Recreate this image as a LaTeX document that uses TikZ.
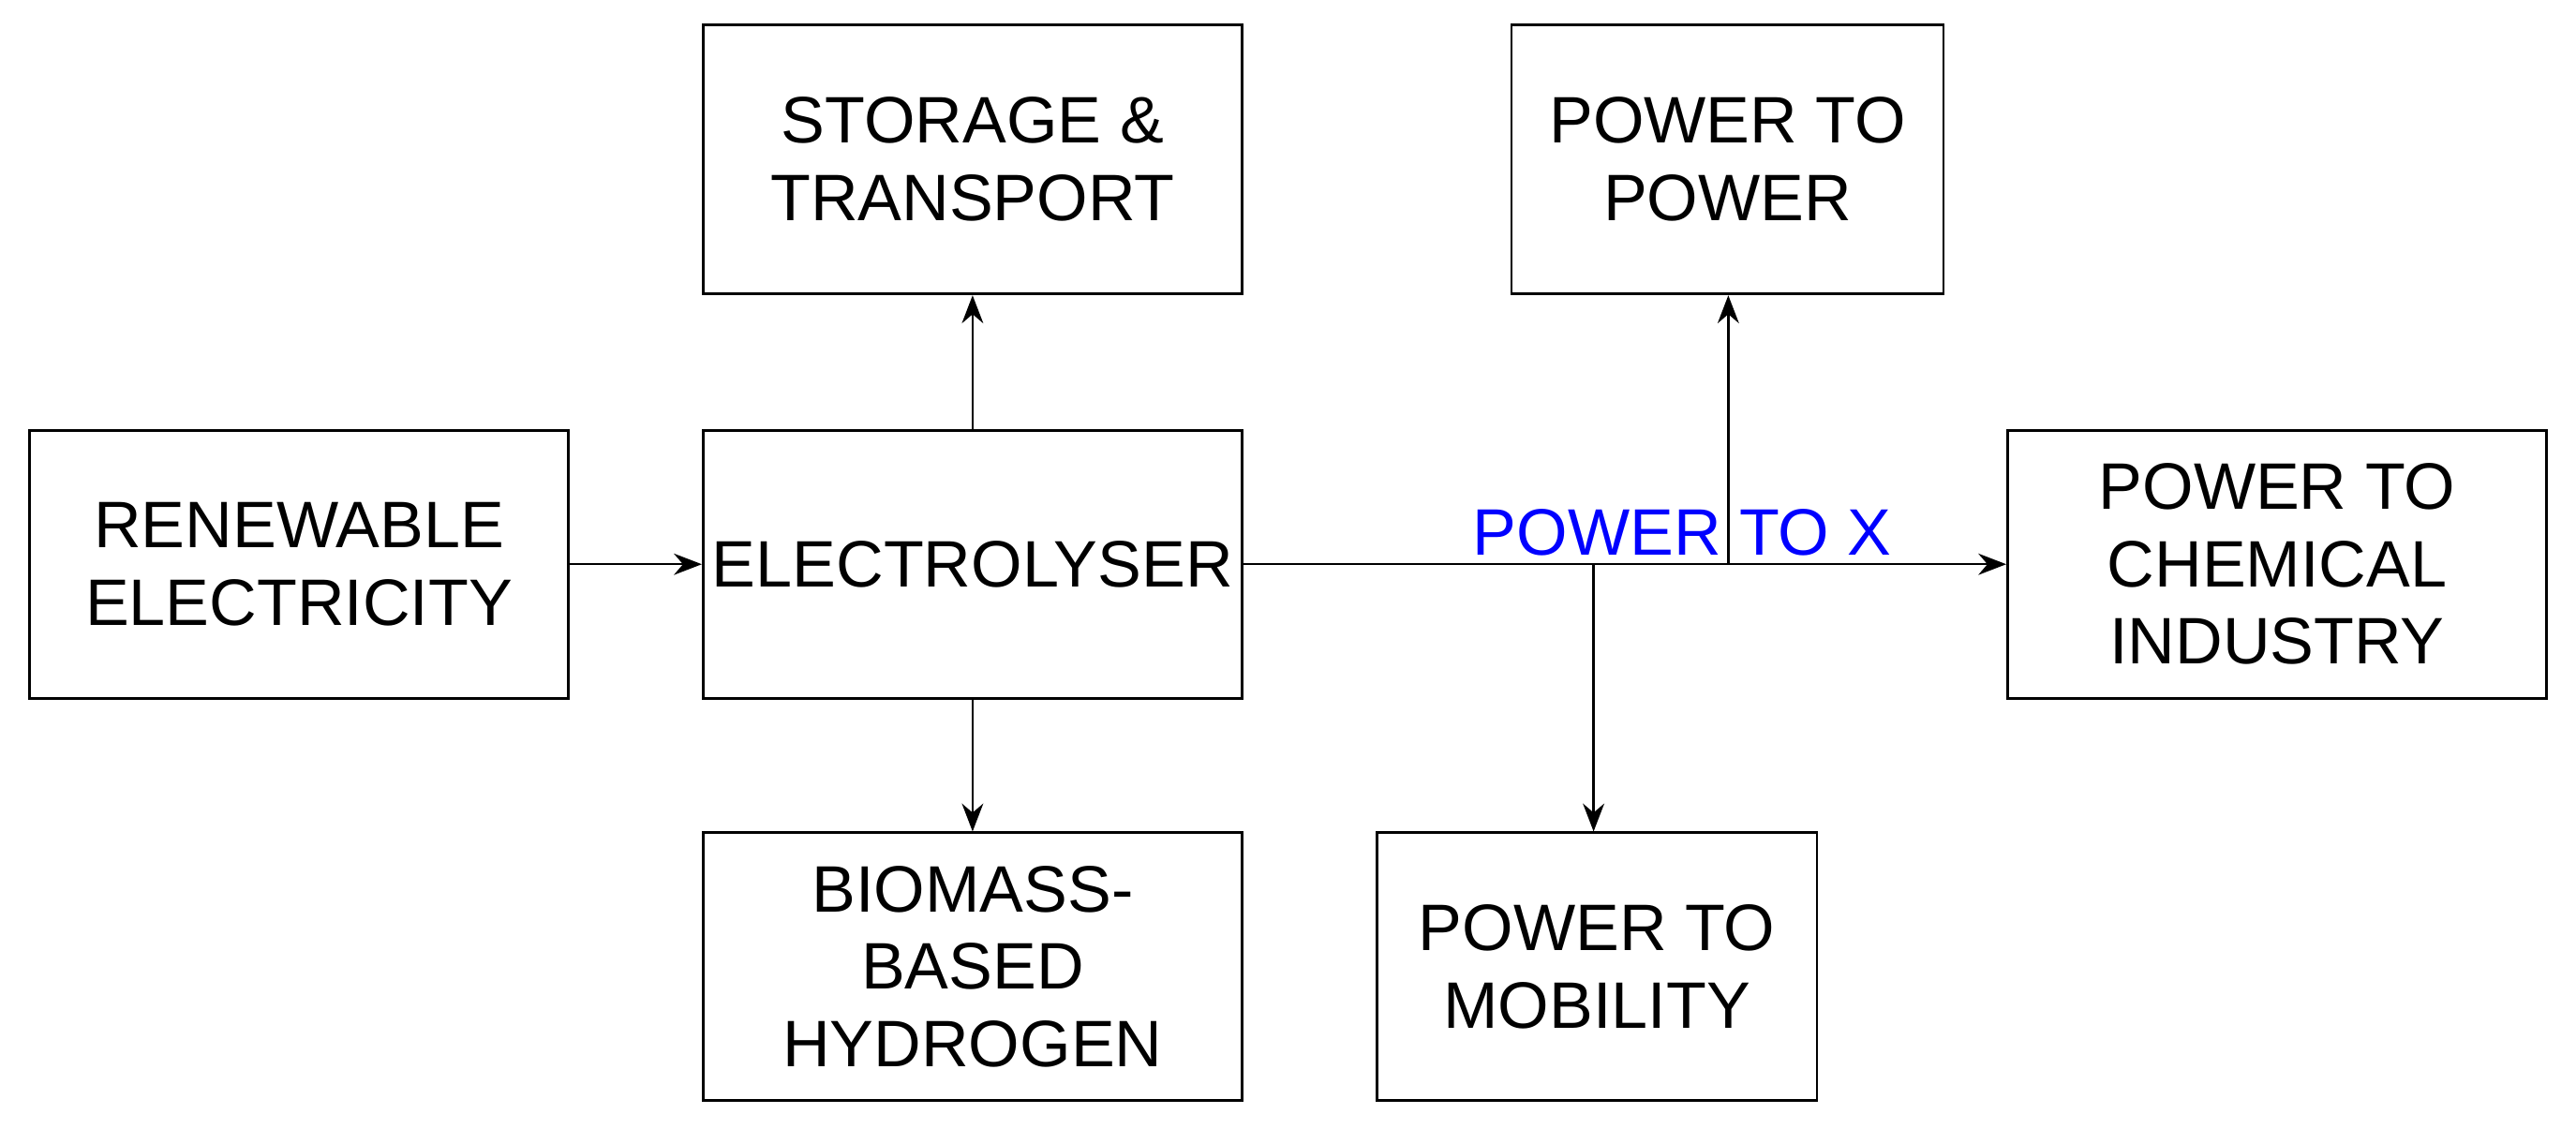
\documentclass[tikz,border=0pt]{standalone}
\usepackage{fontspec}
\setmainfont{Liberation Sans}
\usetikzlibrary{arrows.meta}
\begin{document}
\begin{tikzpicture}[x=1pt,y=-1pt,
  box/.style={draw,line width=1.6pt,align=center,inner sep=1pt,font=\fontsize{40}{47}\selectfont},
  arr/.style={line width=1.4pt,-{Stealth[length=17pt,width=13pt]}}]
\useasboundingbox (0,0) rectangle (1568,687);
\fill[white] (0,0) rectangle (1568,687);
\node[box,minimum width=328pt,minimum height=163pt] (ren) at (182,343.5) {RENEWABLE\\ELECTRICITY};
\node[box,minimum width=328pt,minimum height=163pt] (ele) at (592,343.5) {ELECTROLYSER};
\node[box,minimum width=328pt,minimum height=164pt] (sto) at (592,97) {STORAGE \&\\TRANSPORT};
\node[box,minimum width=328pt,minimum height=163pt] (bio) at (592,588.5) {BIOMASS-\\BASED\\HYDROGEN};
\node[box,minimum width=263pt,minimum height=164pt] (p2p) at (1051.5,97) {POWER TO\\POWER};
\node[box,minimum width=328pt,minimum height=163pt] (p2c) at (1386,343.5) {POWER TO\\CHEMICAL\\INDUSTRY};
\node[box,minimum width=268pt,minimum height=163pt] (p2m) at (972,588.5) {POWER TO\\MOBILITY};
\coordinate (j1) at (1052,344);
\coordinate (j2) at (970,344);
\draw[arr] (ren) -- (ele);
\draw[arr] (ele) -- (sto);
\draw[arr] (ele) -- (bio);
\draw[arr] (ele) -- (p2c);
\draw[arr] (j1) -- (j1 |- p2p.south);
\draw[arr] (j2) -- (j2 |- p2m.north);
\node[font=\fontsize{40}{47}\selectfont,text=blue,inner sep=0pt,anchor=base] (ptx) at (1024,338) {POWER TO X};
\end{tikzpicture}
\end{document}
